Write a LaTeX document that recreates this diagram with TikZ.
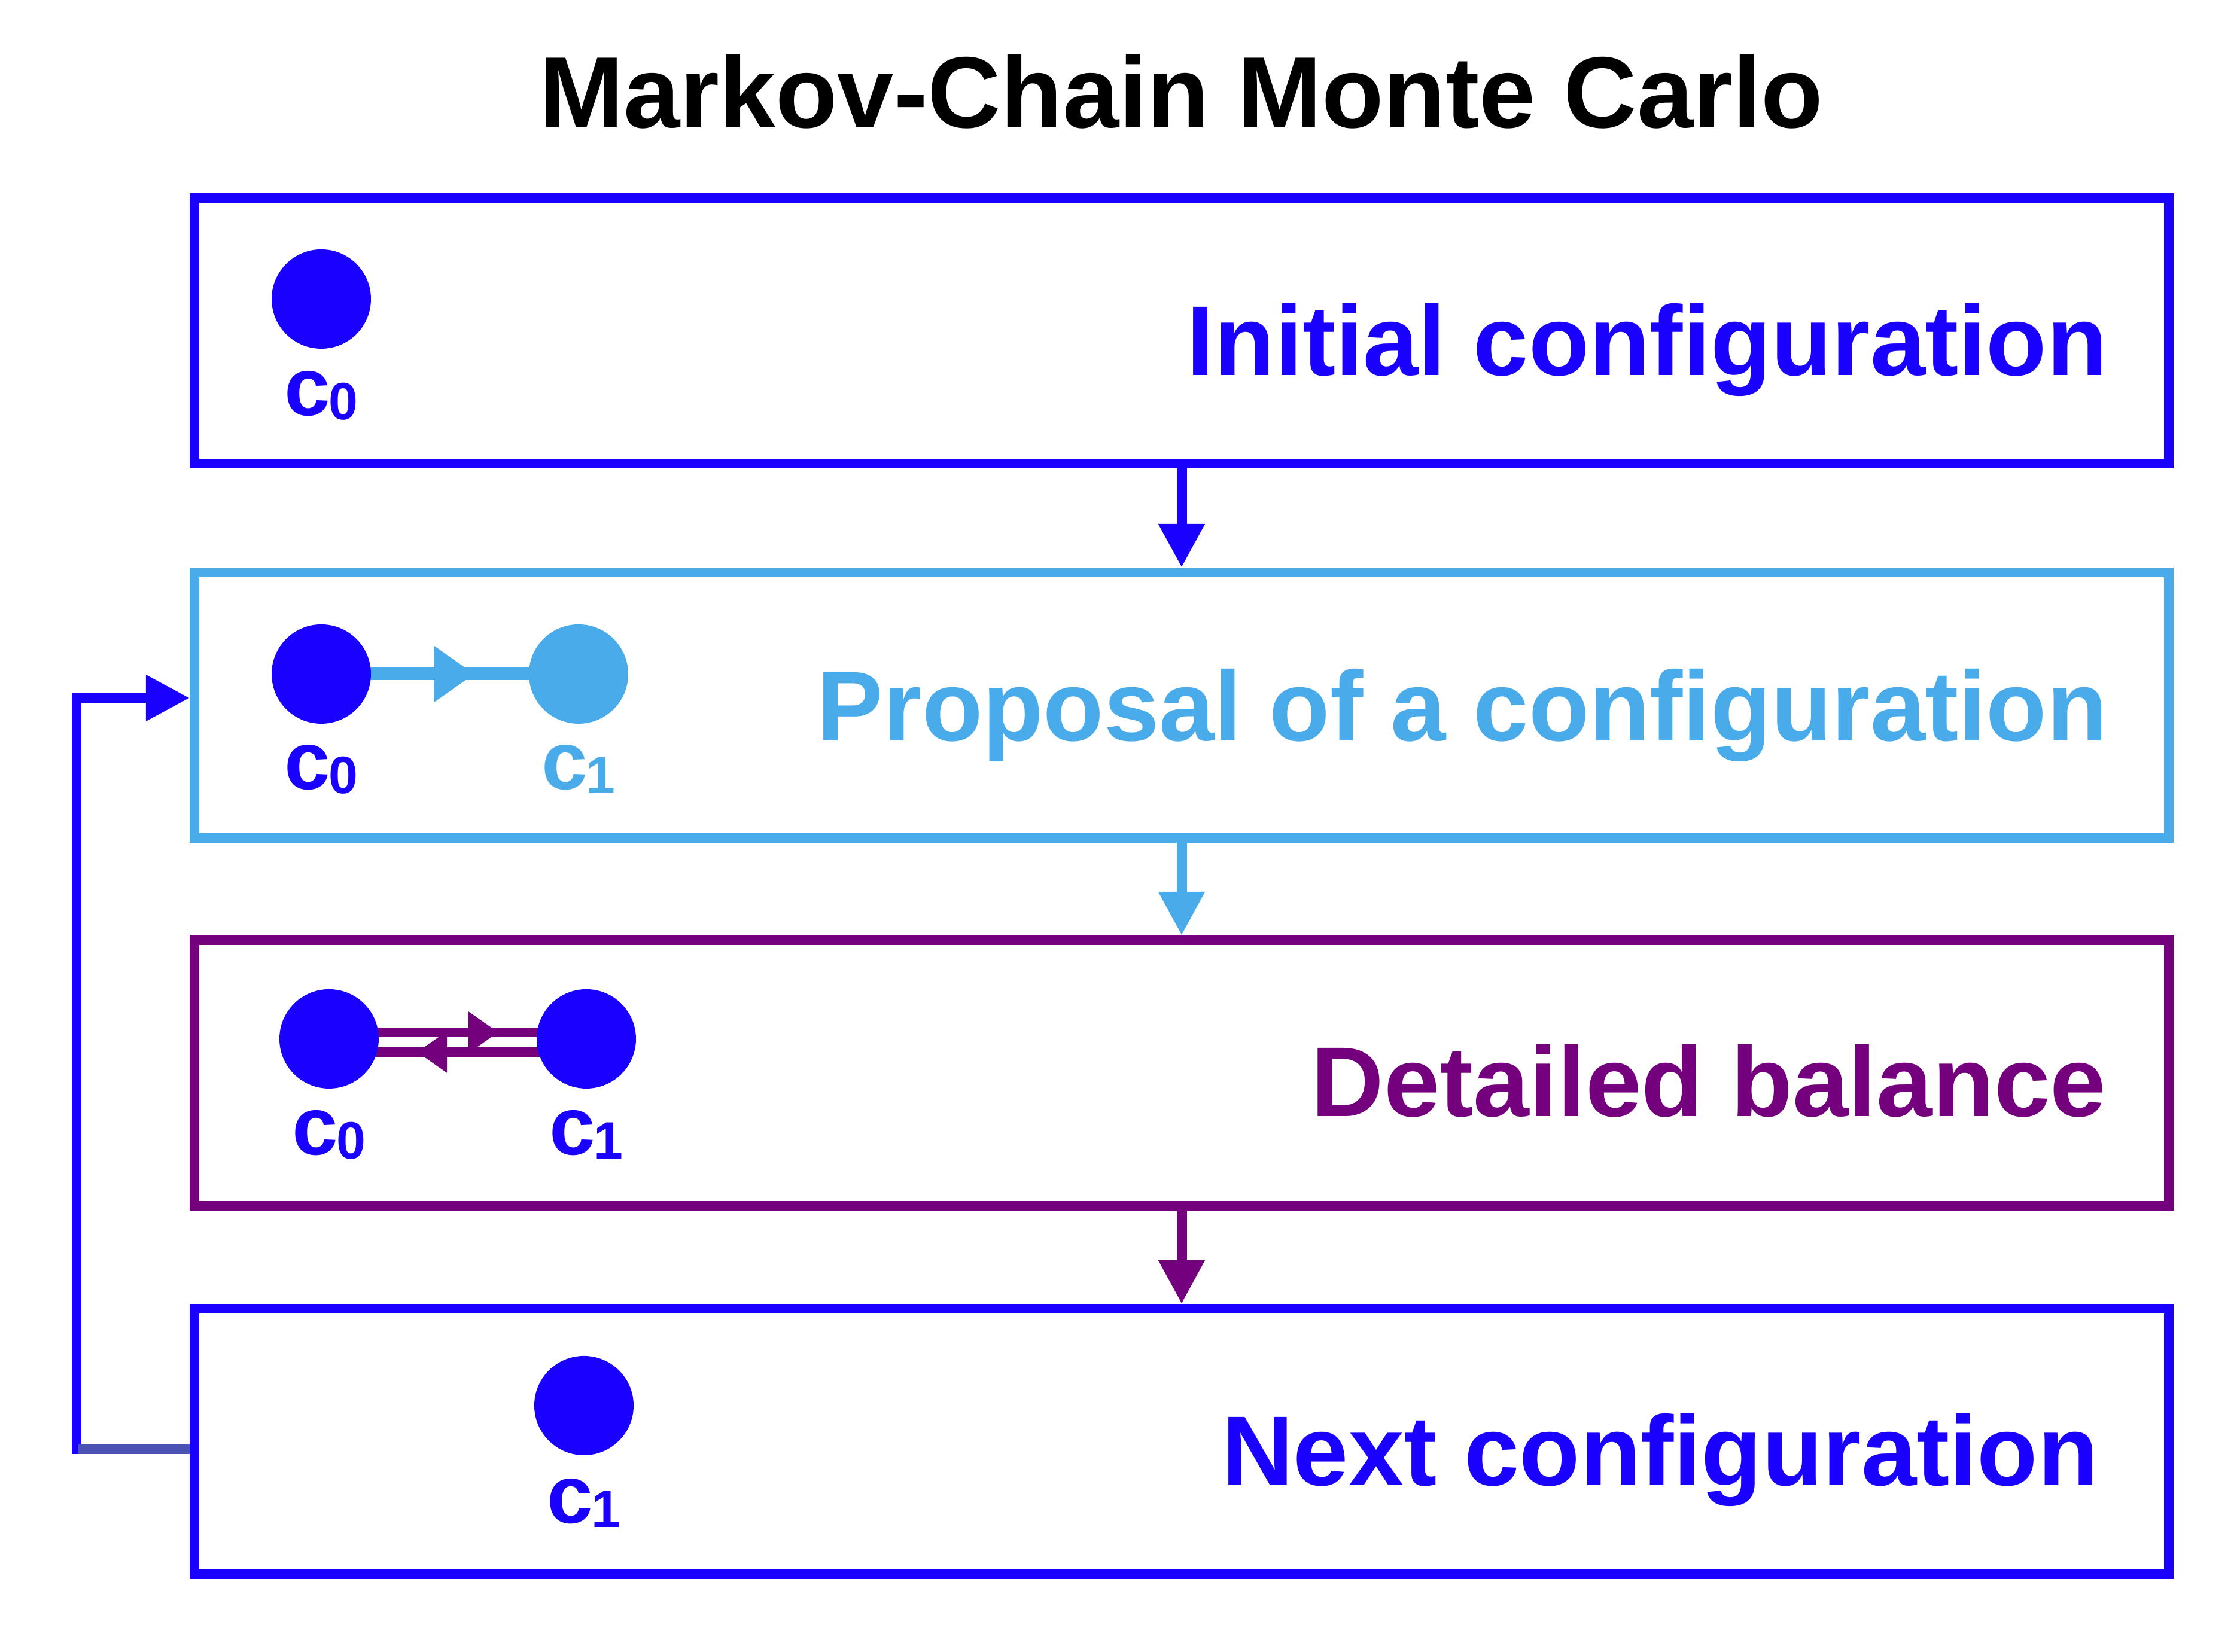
\documentclass[tikz,border=0pt]{standalone}
\usepackage{fontspec}
\setmainfont{Liberation Sans}
\usetikzlibrary{arrows.meta,decorations.markings}

\definecolor{mcblue}{RGB}{26,0,255}
\definecolor{mclight}{RGB}{74,171,234}
\definecolor{mcpurple}{RGB}{116,0,126}
\definecolor{mcmuted}{RGB}{74,82,180}

\pgfdeclarelayer{bg}
\pgfsetlayers{bg,main}

% configuration label c_i
\newcommand{\cfg}[1]{c\kern-0.02em\raisebox{-0.035cm}{\fontsize{12.5}{15}\selectfont #1}}

\tikzset{
    stage/.style={draw, line width=0.08cm, minimum width=16.5cm, minimum height=2.22cm, inner sep=0pt},
    stagetext/.style={font=\fontsize{23.6}{28}\selectfont\bfseries, anchor=base east, inner sep=0pt},
    dot/.style={circle, minimum size=0.83cm, inner sep=0pt, outer sep=0pt},
    cfglabel/.style={font=\fontsize{19.6}{23}\selectfont\bfseries, anchor=base, inner sep=0pt},
    flow/.style={line width=0.085cm, -{Triangle[length=0.365cm, width=0.365cm]}},
    propmove/.style={line width=0.105cm, postaction={decorate},
        decoration={markings, mark=at position 1.28cm with {\arrow{Triangle[length=0.335cm, width=0.445cm]}}}},
    balmove/.style={line width=0.08cm, postaction={decorate},
        decoration={markings, mark=at position 1.415cm with {\arrow{Triangle[length=0.25cm, width=0.33cm]}}}}
}

\begin{document}
\begin{tikzpicture}
    \useasboundingbox (0,0) rectangle (18.72,13.81);

    % Title
    \node[font=\fontsize{24.1}{28}\selectfont\bfseries, anchor=base] (title) at (9.87,12.74) {Markov-Chain Monte Carlo};

    % The four stages
    \node[stage, draw=mcblue] (box1) at (9.875,11.045) {};
    \node[stage, draw=mclight] (box2) at (9.875,7.915) {};
    \node[stage, draw=mcpurple] (box3) at (9.875,4.84) {};
    \node[stage, draw=mcblue] (box4) at (9.875,1.76) {};

    \node[stagetext, text=mcblue] (txt1) at (17.62,10.67) {Initial configuration};
    \node[stagetext, text=mclight] (txt2) at (17.62,7.615) {Proposal of a configuration};
    \node[stagetext, text=mcpurple, xscale=1.015] (txt3) at (17.61,4.475) {Detailed balance};
    \node[stagetext, text=mcblue] (txt4) at (17.545,1.39) {Next configuration};

    % Stage 1: c0
    \node[dot, fill=mcblue] (ini0) at (2.685,11.31) {};
    \node[cfglabel, text=mcblue] (ini0l) at (2.685,10.335) {\cfg{0}};

    % Stage 2: c0 -> c1
    \node[dot, fill=mcblue] (pro0) at (2.685,8.175) {};
    \node[dot, fill=mclight] (pro1) at (4.835,8.175) {};
    \begin{pgfonlayer}{bg}
        \draw[propmove, mclight] (pro0.center) -- (pro1.center);
    \end{pgfonlayer}
    \node[cfglabel, text=mcblue] (pro0l) at (2.685,7.21) {\cfg{0}};
    \node[cfglabel, text=mclight] (pro1l) at (4.835,7.21) {\cfg{1}};

    % Stage 3: c0 <-> c1
    \node[dot, fill=mcblue] (bal0) at (2.75,5.125) {};
    \node[dot, fill=mcblue] (bal1) at (4.90,5.125) {};
    \begin{pgfonlayer}{bg}
        \draw[balmove, mcpurple] ([yshift=0.055cm]bal0.center) -- ([yshift=0.055cm]bal1.center);
        \draw[balmove, mcpurple] ([yshift=-0.11cm]bal1.center) -- ([yshift=-0.11cm]bal0.center);
    \end{pgfonlayer}
    \node[cfglabel, text=mcblue] (bal0l) at (2.75,4.155) {\cfg{0}};
    \node[cfglabel, text=mcblue] (bal1l) at (4.90,4.155) {\cfg{1}};

    % Stage 4: c1
    \node[dot, fill=mcblue] (nxt1) at (4.88,2.06) {};
    \node[cfglabel, text=mcblue] (nxt1l) at (4.88,1.075) {\cfg{1}};

    % Flow between stages
    \draw[flow, mcblue] (box1) -- (box2);
    \draw[flow, mclight] (box2) -- (box3);
    \draw[flow, mcpurple] (box3) -- (box4);

    % Loop back to the proposal
    \draw[flow, mcblue, line width=0.08cm, line join=miter] ([yshift=-0.065cm]box4.west) -- ++(-0.945,0) |- ([yshift=0.06cm]box2.west);
    \draw[mcmuted, line width=0.08cm] ([yshift=-0.065cm]box4.west) -- ++(-0.93,0);
\end{tikzpicture}
\end{document}
